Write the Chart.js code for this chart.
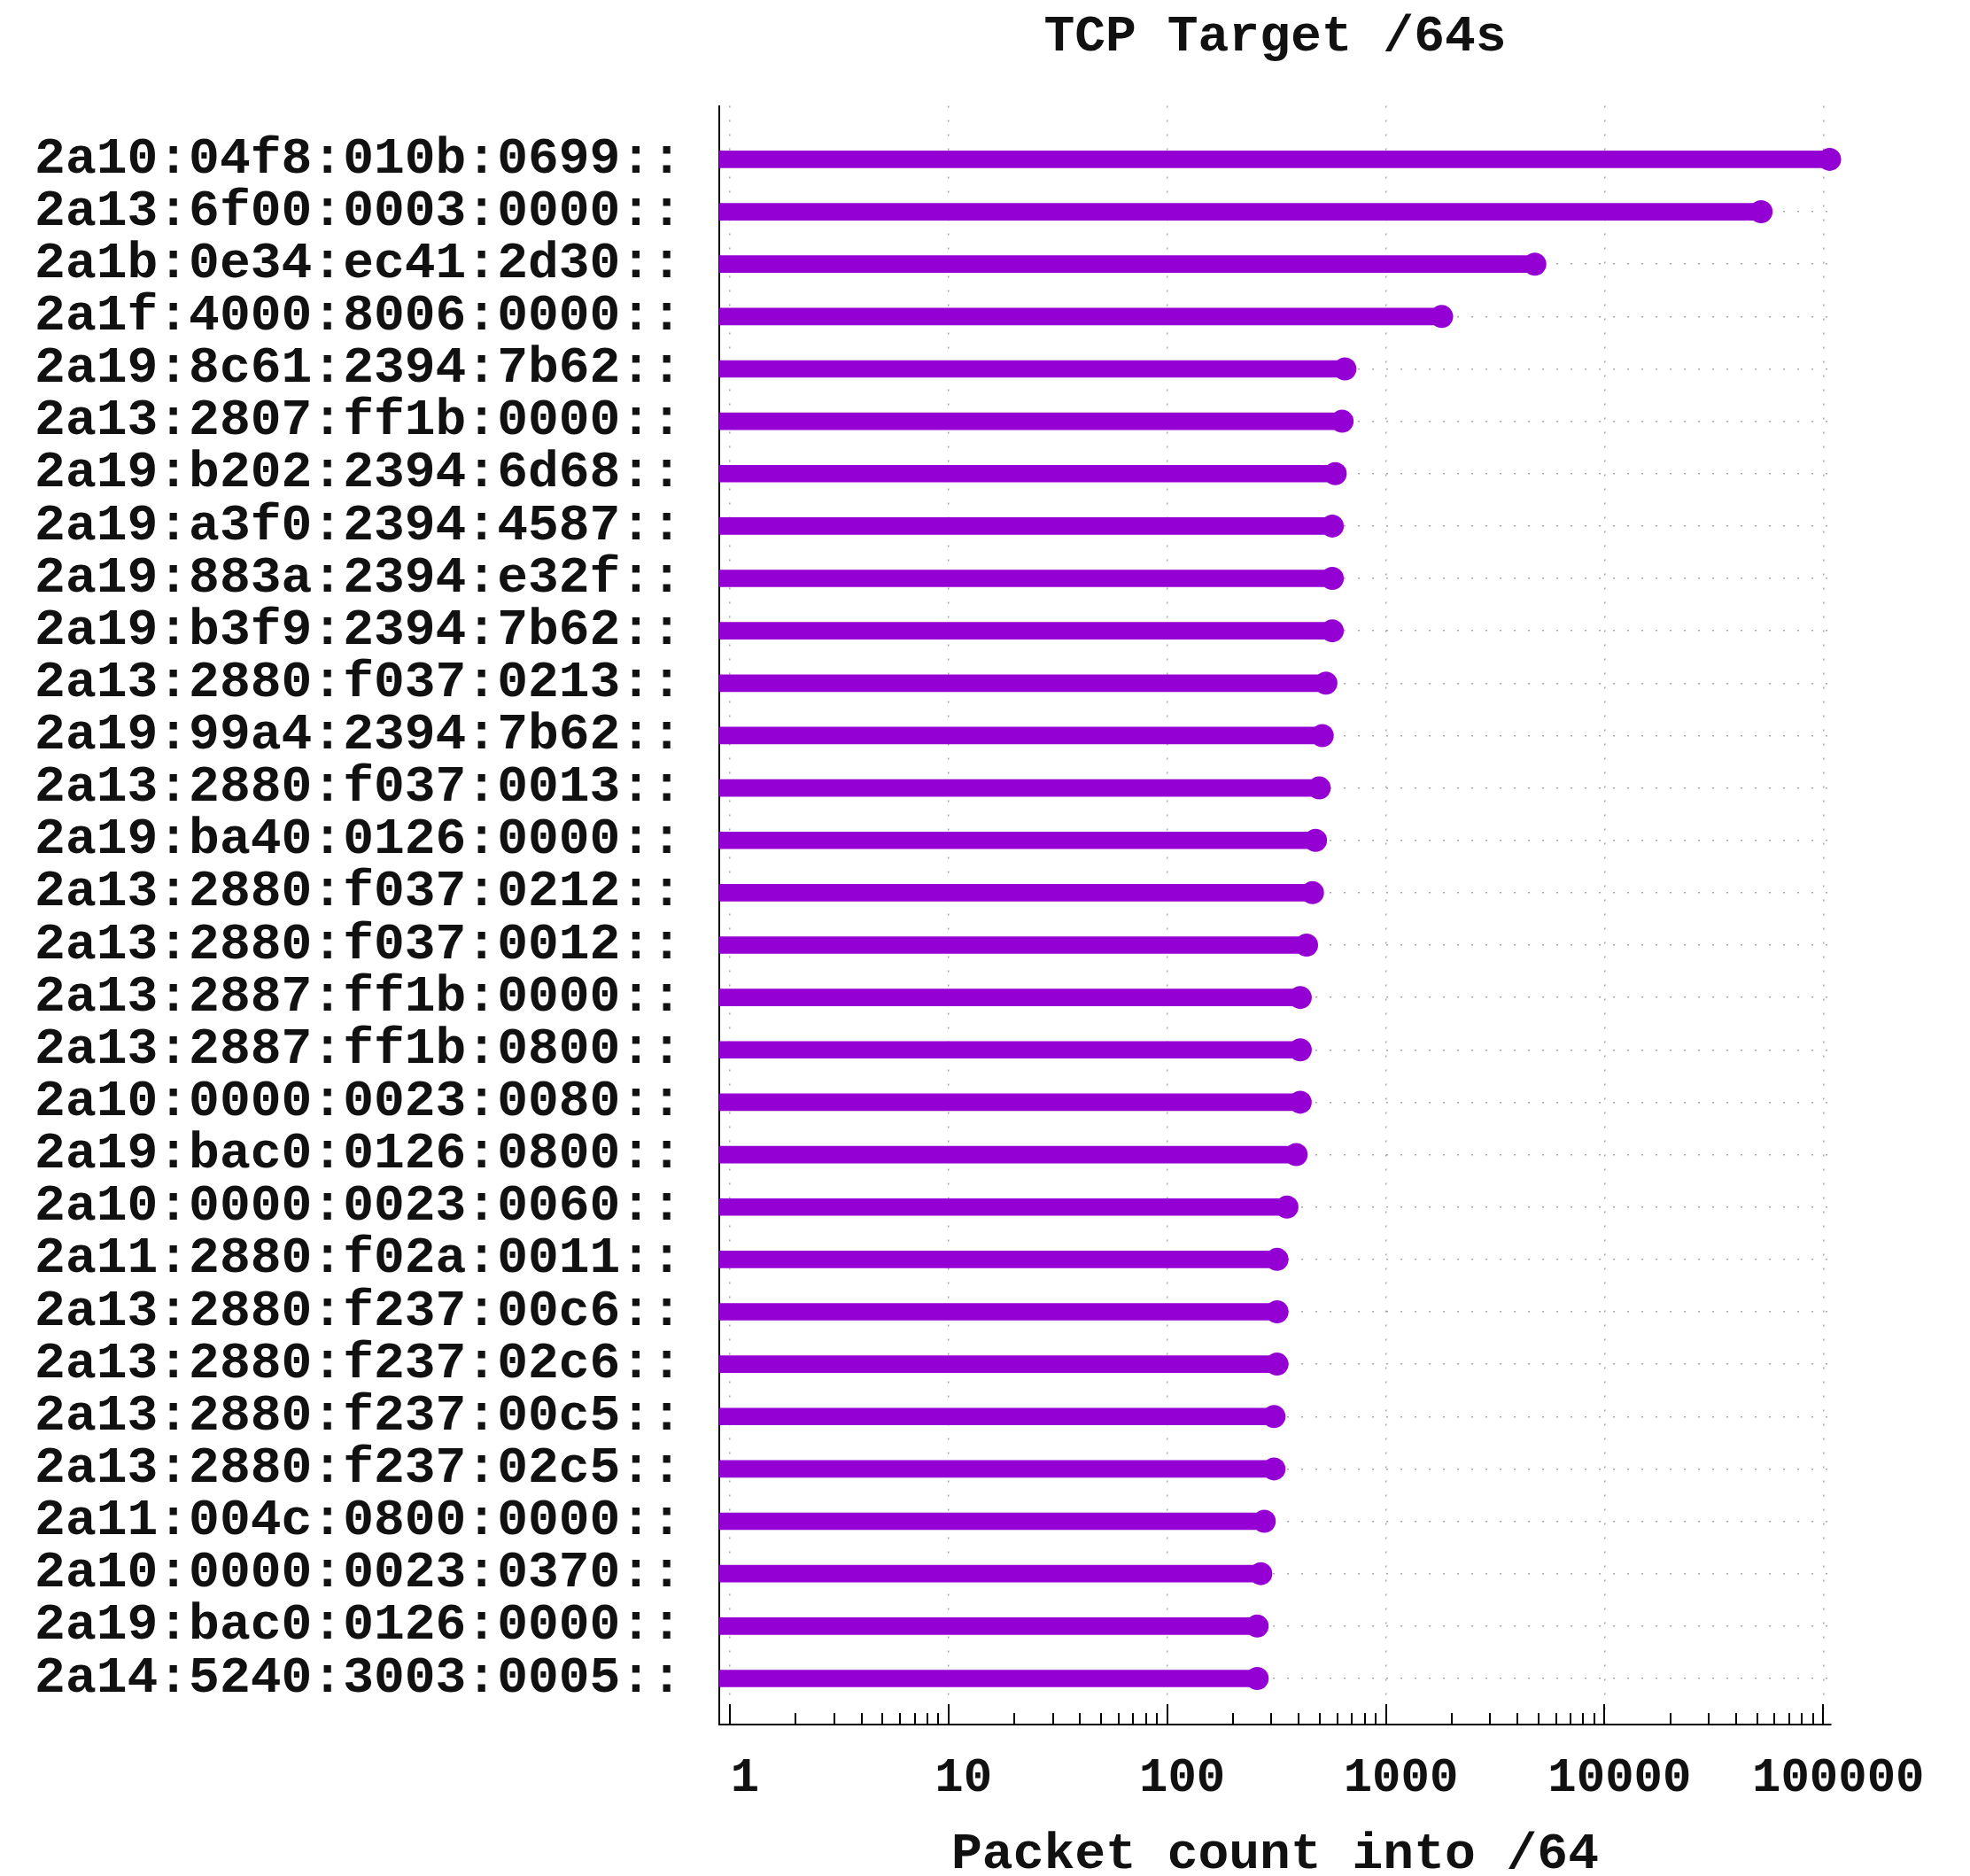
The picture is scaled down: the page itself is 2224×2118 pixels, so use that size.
<!DOCTYPE html>
<html lang="en">
<head>
    <meta charset="UTF-8">
    <title>TCP Target /64s</title>
    <script src="https://cdn.jsdelivr.net/npm/chart.js"></script>
    <style>
        body { margin: 0; background: #fff; }
        #wrap { width: 2224px; height: 2118px; }
    </style>
</head>
<body>
    <div id="wrap"><canvas id="tcpChart"></canvas></div>

    <script>
        // /64 prefixes, top to bottom
        const prefixes = [
            '2a10:04f8:010b:0699::', '2a13:6f00:0003:0000::', '2a1b:0e34:ec41:2d30::',
            '2a1f:4000:8006:0000::', '2a19:8c61:2394:7b62::', '2a13:2807:ff1b:0000::',
            '2a19:b202:2394:6d68::', '2a19:a3f0:2394:4587::', '2a19:883a:2394:e32f::',
            '2a19:b3f9:2394:7b62::', '2a13:2880:f037:0213::', '2a19:99a4:2394:7b62::',
            '2a13:2880:f037:0013::', '2a19:ba40:0126:0000::', '2a13:2880:f037:0212::',
            '2a13:2880:f037:0012::', '2a13:2887:ff1b:0000::', '2a13:2887:ff1b:0800::',
            '2a10:0000:0023:0080::', '2a19:bac0:0126:0800::', '2a10:0000:0023:0060::',
            '2a11:2880:f02a:0011::', '2a13:2880:f237:00c6::', '2a13:2880:f237:02c6::',
            '2a13:2880:f237:00c5::', '2a13:2880:f237:02c5::', '2a11:004c:0800:0000::',
            '2a10:0000:0023:0370::', '2a19:bac0:0126:0000::', '2a14:5240:3003:0005::'
        ];

        // packet counts
        const packetCounts = [
            107000, 52000, 4800, 1800, 650, 631, 587, 569, 569, 569,
            532, 512, 496, 477, 462, 434, 406, 406, 406, 389,
            353, 318, 318, 318, 308, 308, 278, 268, 258, 258
        ];

        const xTickValues = [1, 10, 100, 1000, 10000, 100000];

        const violet = '#9400d3';
        const monoFont = '"Liberation Mono", "DejaVu Sans Mono", monospace';

        const points = packetCounts.map((v, i) => ({ x: v, y: i }));

        // gnuplot style inward ticks on the x axis (major + minor)
        const inwardTicks = {
            id: 'inwardTicks',
            afterDraw(chart) {
                const xs = chart.scales.x;
                const ctx = chart.ctx;
                const bottom = chart.chartArea.bottom;
                ctx.save();
                ctx.strokeStyle = '#000';
                ctx.lineWidth = 2;
                for (let k = 0; k <= 5; k++) {
                    for (let m = 1; m <= 9; m++) {
                        const v = m * Math.pow(10, k);
                        if (v < xs.min || v > xs.max) continue;
                        const px = Math.round(xs.getPixelForValue(v));
                        const len = m === 1 ? 23 : 13;
                        ctx.beginPath();
                        ctx.moveTo(px, bottom);
                        ctx.lineTo(px, bottom - len);
                        ctx.stroke();
                    }
                }
                ctx.restore();
            }
        };

        const ctx = document.getElementById('tcpChart').getContext('2d');
        new Chart(ctx, {
            type: 'bar',
            data: {
                datasets: [{
                    type: 'bar',
                    data: points,
                    backgroundColor: violet,
                    borderWidth: 0,
                    barThickness: 19
                }, {
                    type: 'line',
                    data: points,
                    showLine: false,
                    pointRadius: 13,
                    pointHoverRadius: 13,
                    pointBackgroundColor: violet,
                    pointBorderWidth: 0,
                    clip: false
                }]
            },
            options: {
                indexAxis: 'y',
                responsive: true,
                maintainAspectRatio: false,
                animation: false,
                layout: { padding: { right: 157 } },
                plugins: {
                    legend: { display: false },
                    tooltip: { enabled: false },
                    title: {
                        display: true,
                        fullSize: false,
                        text: 'TCP Target /64s',
                        color: '#111',
                        font: { family: monoFont, size: 58, weight: 'bold' },
                        padding: { top: 8, bottom: 42 }
                    }
                },
                scales: {
                    x: {
                        type: 'logarithmic',
                        min: 0.895,
                        max: 108500,
                        afterBuildTicks: scale => {
                            scale.ticks = xTickValues.map(v => ({ value: v }));
                        },
                        afterFit: scale => { scale.height = 171; },
                        ticks: {
                            callback: v => String(v),
                            autoSkip: false,
                            maxRotation: 0,
                            labelOffset: 17,
                            padding: 29,
                            color: '#111',
                            font: { family: monoFont, size: 54, weight: 'bold' }
                        },
                        grid: {
                            color: '#a8a8a8',
                            lineWidth: 1.5,
                            drawTicks: false
                        },
                        border: { color: '#000', width: 2, dash: [2, 14] },
                        title: {
                            display: true,
                            text: 'Packet count into /64',
                            color: '#111',
                            font: { family: monoFont, size: 58, weight: 'bold', lineHeight: 0.8 },
                            padding: { top: 31, bottom: 0 }
                        }
                    },
                    y: {
                        type: 'linear',
                        reverse: true,
                        offset: false,
                        min: -1.02,
                        max: 29.88,
                        afterBuildTicks: scale => {
                            scale.ticks = prefixes.map((_, i) => ({ value: i }));
                        },
                        afterFit: scale => { scale.width = 812; },
                        ticks: {
                            callback: v => prefixes[v],
                            autoSkip: false,
                            padding: 42,
                            color: '#111',
                            font: { family: monoFont, size: 58, weight: 'bold' }
                        },
                        grid: {
                            offset: false,
                            color: '#a8a8a8',
                            lineWidth: 1.5,
                            drawTicks: false
                        },
                        border: { color: '#000', width: 2, dash: [2, 14] }
                    }
                }
            },
            plugins: [inwardTicks]
        });
    </script>
</body>
</html>
